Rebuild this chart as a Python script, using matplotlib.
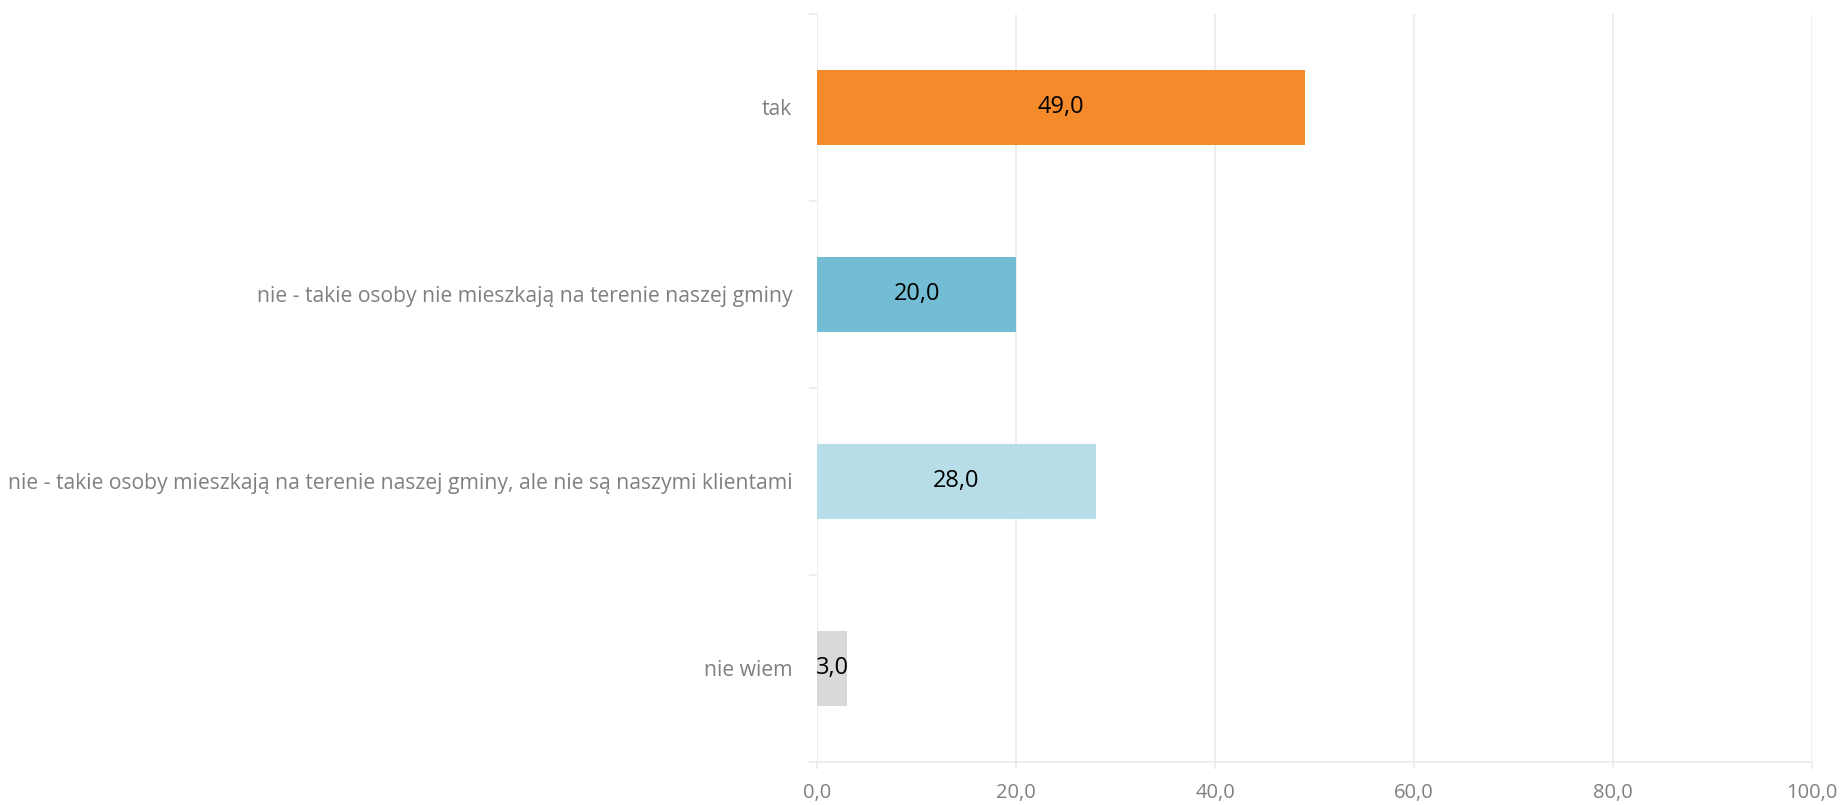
import matplotlib
matplotlib.use("Agg")
import matplotlib.pyplot as plt

# Data
categories = [
    "tak",
    "nie - takie osoby nie mieszkają na terenie naszej gminy",
    "nie - takie osoby mieszkają na terenie naszej gminy, ale nie są naszymi klientami",
    "nie wiem",
]
values = [49.0, 20.0, 28.0, 3.0]
colors = ["#F58A2B", "#72BDD3", "#B7DDE8", "#D9D9D9"]
xticks = [0, 20, 40, 60, 80, 100]

plt.rcParams["font.family"] = ["Open Sans", "DejaVu Sans"]

fig = plt.figure(figsize=(18.45, 8.05), dpi=100)
ax = fig.add_axes([0.443, 0.0538, 0.982 - 0.443, 0.9826 - 0.0538])

pos = list(range(len(categories)))
bars = ax.barh(pos, values, height=0.4, color=colors, zorder=3)
ax.bar_label(bars, labels=[f"{v:.1f}".replace(".", ",") for v in values],
             label_type="center", fontsize=17, color="black", zorder=4)

ax.set_xlim(0, 100)
ax.set_ylim(3.5, -0.5)

grid_c = "#EDEDED"
ax.set_xticks(xticks)
ax.set_xticklabels([f"{t:.1f}".replace(".", ",") for t in xticks])
ax.xaxis.grid(True, color=grid_c, linewidth=1.3, zorder=0)
ax.tick_params(axis="x", length=5, width=1.3, color=grid_c, labelsize=14.5,
               labelcolor="#808080", pad=10)

ax.set_yticks(pos)
ax.set_yticklabels(categories)
ax.set_yticks([p - 0.5 for p in pos] + [len(pos) - 0.5], minor=True)
ax.tick_params(axis="y", which="major", length=0, labelsize=15.2,
               labelcolor="#808080", pad=18)
ax.tick_params(axis="y", which="minor", length=6, width=1.3, color=grid_c)

for s in ["top", "right", "left"]:
    ax.spines[s].set_visible(False)
ax.spines["bottom"].set_color(grid_c)
ax.spines["bottom"].set_linewidth(1.3)

fig.savefig("out.png", dpi=100)
